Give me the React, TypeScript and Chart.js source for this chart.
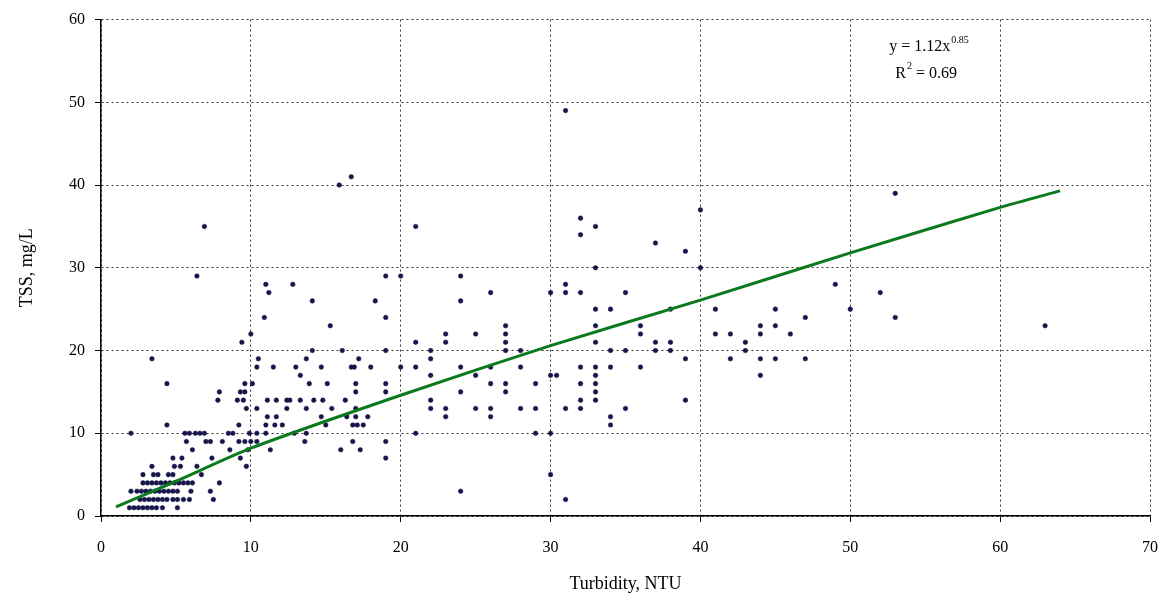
import React, { useEffect, useRef } from "react";
import { Chart, registerables } from "chart.js";

Chart.register(...registerables);

// Axis ticks
const X_TICKS = [0, 10, 20, 30, 40, 50, 60, 70];
const Y_TICKS = [0, 10, 20, 30, 40, 50, 60];

// Observations grouped by TSS value (mg/L): each TSS level lists the turbidities (NTU) observed at it
const TSS_LEVELS = [1, 2, 3, 4, 5, 6, 7, 8, 9, 10, 11, 12, 13, 14, 15, 16, 17, 18, 19, 20, 21, 22, 23, 24, 25, 26, 27, 28, 29, 30, 32, 33, 34, 35, 36, 37, 39, 40, 41, 49];
const TURBIDITY_BY_TSS = [
  [1.9, 2.2, 2.5, 2.8, 3.1, 3.4, 3.7, 4.1, 5.1],
  [2.6, 2.9, 3.2, 3.5, 3.8, 4.1, 4.4, 4.8, 5.1, 5.5, 5.9, 7.5, 31],
  [2.0, 2.4, 2.7, 3.0, 3.3, 3.6, 3.9, 4.2, 4.5, 4.8, 5.1, 6.0, 7.3, 24],
  [2.8, 3.1, 3.4, 3.7, 4.0, 4.3, 4.6, 4.9, 5.2, 5.5, 5.8, 6.1, 7.9],
  [2.8, 3.5, 3.8, 4.5, 4.8, 6.7, 30],
  [3.4, 4.9, 5.3, 6.4, 9.7],
  [4.8, 5.4, 7.4, 9.3, 19],
  [6.1, 8.6, 9.8, 11.3, 16.0, 17.3],
  [5.7, 7.0, 7.3, 8.1, 9.2, 9.6, 10.0, 10.4, 13.6, 16.8, 19],
  [2.0, 5.6, 5.9, 6.3, 6.6, 6.9, 8.5, 8.8, 9.9, 10.4, 11.0, 12.9, 13.7, 21, 29, 30],
  [4.4, 9.2, 11.0, 11.6, 12.1, 15.0, 16.8, 17.1, 17.5, 34],
  [11.1, 11.7, 14.7, 16.4, 17.0, 17.8, 23, 26, 34],
  [9.7, 10.4, 12.4, 13.7, 15.4, 17.0, 22, 23, 25, 26, 28, 29, 31, 32, 35],
  [7.8, 9.1, 9.5, 11.1, 11.7, 12.4, 12.6, 13.3, 14.2, 14.8, 16.3, 22, 32, 33, 39],
  [7.9, 9.3, 9.6, 17.0, 19, 24, 27, 33],
  [4.4, 9.6, 10.1, 13.9, 15.1, 17.0, 19, 26, 27, 29, 32, 33],
  [13.3, 22, 25, 30, 30.4, 33, 44],
  [10.4, 11.5, 13.0, 14.7, 16.7, 16.9, 18.0, 20, 21, 24, 26, 28, 32, 33, 34, 36],
  [3.4, 10.5, 13.7, 17.2, 22, 39, 42, 44, 45, 47],
  [14.1, 16.1, 19, 22, 27, 28, 34, 35, 37, 38, 43],
  [9.4, 21, 23, 27, 33, 37, 38, 43],
  [10.0, 23, 25, 27, 36, 41, 42, 44, 46],
  [15.3, 27, 33, 36, 44, 45, 63],
  [10.9, 19, 47, 53],
  [33, 34, 38, 41, 45, 50],
  [14.1, 18.3, 24],
  [11.2, 26, 30, 31, 32, 35, 52],
  [11.0, 12.8, 31, 49],
  [6.4, 19, 20, 24],
  [33, 40],
  [39],
  [37],
  [32],
  [6.9, 21, 33],
  [32],
  [40],
  [53],
  [15.9],
  [16.7],
  [31],
];

// Power-law trend line
const FIT_TURBIDITY = [1, 5, 10, 20, 30, 40, 50, 60, 64];
const FIT_TSS = [1.1, 4.2, 8.2, 14.6, 20.6, 26.1, 31.8, 37.3, 39.3];

// Equation label text
const EQ_LINE1 = "y = 1.12x";
const EQ_EXP = "0.85";
const EQ_LINE2_A = "R";
const EQ_LINE2_SUP = "2";
const EQ_LINE2_B = " = 0.69";

const SERIF = '"Liberation Serif", "Times New Roman", serif';

export default function App() {
  const ref = useRef<HTMLCanvasElement>(null);

  useEffect(() => {
    if (!ref.current) return;
    const points: { x: number; y: number }[] = [];
    TSS_LEVELS.forEach((tss, i) => {
      TURBIDITY_BY_TSS[i].forEach((t) => points.push({ x: t, y: tss }));
    });
    const fit = FIT_TURBIDITY.map((t, i) => ({ x: t, y: FIT_TSS[i] }));

    const eqPlugin = {
      id: "eqLabel",
      afterDatasetsDraw(chart: any) {
        const { ctx, scales } = chart;
        const x0 = scales.x.getPixelForValue(52.6);
        const y1 = scales.y.getPixelForValue(56.2);
        const y2 = scales.y.getPixelForValue(52.9);
        ctx.save();
        ctx.fillStyle = "#000";
        ctx.textBaseline = "alphabetic";
        ctx.textAlign = "left";
        ctx.font = `16px ${SERIF}`;
        ctx.fillText(EQ_LINE1, x0, y1);
        const w1 = ctx.measureText(EQ_LINE1).width;
        ctx.font = `10px ${SERIF}`;
        ctx.fillText(EQ_EXP, x0 + w1 + 1, y1 - 8);
        const x2 = x0 + 6;
        ctx.font = `16px ${SERIF}`;
        ctx.fillText(EQ_LINE2_A, x2, y2);
        const wr = ctx.measureText(EQ_LINE2_A).width;
        ctx.font = `10px ${SERIF}`;
        ctx.fillText(EQ_LINE2_SUP, x2 + wr + 1, y2 - 9);
        const ws = ctx.measureText(EQ_LINE2_SUP).width;
        ctx.font = `16px ${SERIF}`;
        ctx.fillText(EQ_LINE2_B, x2 + wr + ws + 1, y2);
        ctx.restore();
      },
    };

    const gridCommon = {
      color: "#333",
      lineWidth: 1,
      drawTicks: true,
      tickLength: 6,
      tickColor: "#000",
      tickBorderDash: [],
      tickWidth: 1,
    };

    const chart = new Chart(ref.current, {
      type: "scatter",
      data: {
        datasets: [
          {
            type: "line",
            data: fit,
            borderColor: "#0b7a1c",
            borderWidth: 3,
            pointRadius: 0,
            fill: false,
            tension: 0.2,
            order: 0,
          } as any,
          {
            data: points,
            pointStyle: "circle",
            pointRadius: 2.3,
            backgroundColor: "#16164a",
            borderColor: "#16164a",
            borderWidth: 0.5,
            order: 1,
          },
        ],
      },
      options: {
        animation: false,
        responsive: true,
        maintainAspectRatio: false,
        layout: { padding: { top: 12, right: 14, left: 0, bottom: 0 } },
        plugins: { legend: { display: false }, tooltip: { enabled: false } },
        scales: {
          x: {
            type: "linear",
            min: 0,
            max: 70,
            afterBuildTicks: (s: any) => {
              s.ticks = X_TICKS.map((v) => ({ value: v }));
            },
            afterFit: (s: any) => {
              s.height = 93;
            },
            ticks: { color: "#000", font: { family: SERIF, size: 16 }, padding: 16, maxRotation: 0 },
            grid: gridCommon,
            border: { display: true, color: "#000", width: 1.5, dash: [2, 3] },
            title: {
              display: true,
              text: "Turbidity, NTU",
              color: "#000",
              font: { family: SERIF, size: 18 },
              padding: { top: 0, bottom: 14 },
            },
          },
          y: {
            type: "linear",
            min: 0,
            max: 60,
            afterBuildTicks: (s: any) => {
              s.ticks = Y_TICKS.map((v) => ({ value: v }));
            },
            afterFit: (s: any) => {
              s.width = 101;
            },
            ticks: { color: "#000", font: { family: SERIF, size: 16 }, padding: 10 },
            grid: gridCommon,
            border: { display: true, color: "#000", width: 1.5, dash: [2, 3] },
            title: {
              display: true,
              text: "TSS, mg/L",
              color: "#000",
              font: { family: SERIF, size: 18 },
              padding: { top: 16, bottom: 0 },
            },
          },
        },
      },
      plugins: [eqPlugin],
    });
    return () => chart.destroy();
  }, []);

  return (
    <div style={{ position: "fixed", left: 0, top: 0, width: 1174, height: 609, background: "#fff" }}>
      <canvas ref={ref} />
    </div>
  );
}
